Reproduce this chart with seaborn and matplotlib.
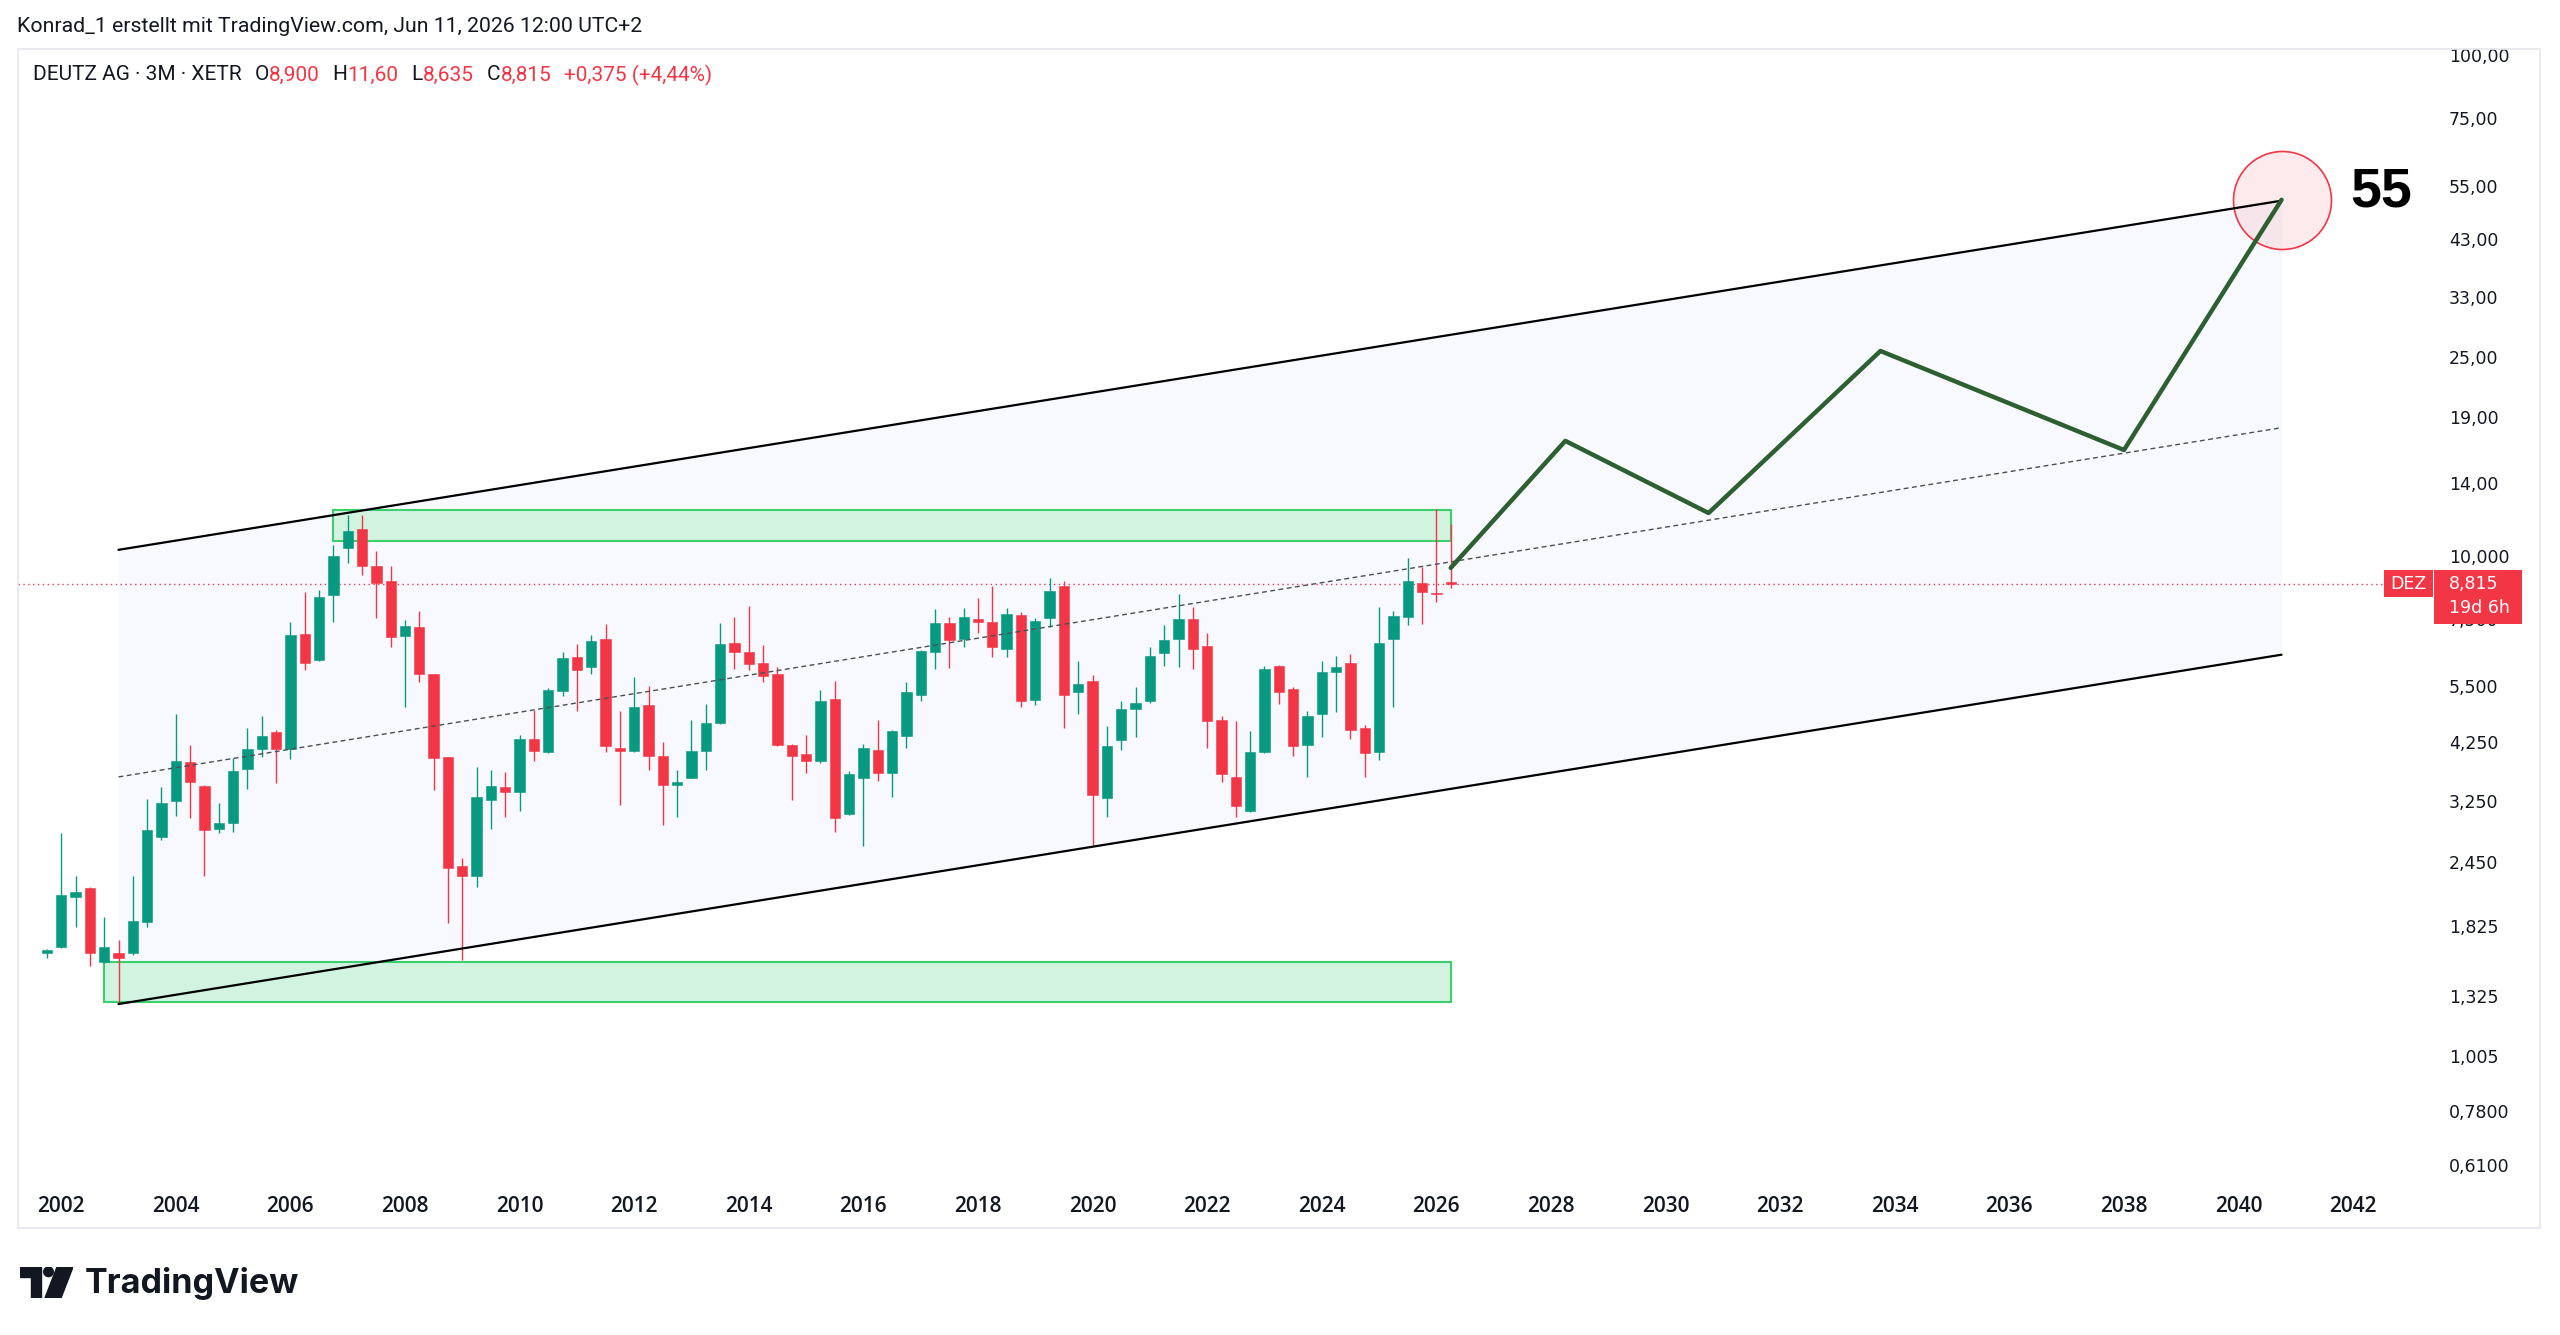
import numpy as np
import pandas as pd
import matplotlib
matplotlib.use("Agg")
import matplotlib.pyplot as plt
import matplotlib.ticker as mticker
from matplotlib.patches import Rectangle, Polygon, Circle
import seaborn as sns

# ---------------- data (quarterly candles, DEUTZ AG, XETR) ----------------
first_quarter = "2001Q4"
opens = [1.61, 1.66, 2.09, 2.18, 1.55, 1.61, 1.61, 1.86, 2.75, 3.25,
         3.88, 3.48, 2.85, 2.93, 3.76, 4.13, 4.46, 4.12, 6.99, 6.21,
         8.36, 10.37, 11.34, 9.58, 8.94, 6.94, 7.24, 5.81, 3.97, 2.41,
         2.30, 3.26, 3.46, 3.39, 4.32, 4.07, 5.38, 6.30, 6.01, 6.84,
         4.15, 4.08, 5.04, 4.00, 3.49, 3.61, 4.09, 4.64, 6.70, 6.44,
         6.11, 5.82, 4.20, 4.02, 3.90, 5.19, 3.06, 3.61, 4.10, 3.69,
         4.37, 5.29, 6.45, 7.37, 6.85, 7.49, 7.40, 6.53, 7.63, 5.17,
         7.54, 8.72, 5.35, 5.63, 3.29, 4.30, 4.96, 5.13, 6.40, 6.83,
         7.49, 6.63, 4.72, 3.63, 3.10, 4.06, 6.05, 5.42, 4.19, 4.84,
         5.87, 6.11, 4.54, 4.06, 6.83, 7.57, 8.86, 8.45, 8.90]
highs = [1.64, 2.80, 2.30, 2.19, 1.90, 1.71, 2.30, 3.28, 3.46, 4.85,
         4.20, 3.50, 3.21, 3.95, 4.54, 4.80, 4.50, 7.39, 8.50, 8.57,
         10.53, 12.09, 12.09, 10.24, 9.56, 7.46, 7.78, 5.83, 3.98, 2.50,
         3.80, 3.74, 3.71, 4.39, 4.94, 5.45, 6.45, 6.67, 6.96, 7.31,
         4.90, 5.74, 5.50, 4.26, 3.75, 4.70, 5.07, 7.35, 7.57, 7.96,
         6.65, 6.01, 4.21, 4.40, 5.40, 5.63, 3.73, 4.21, 4.70, 4.50,
         5.60, 6.50, 7.86, 7.55, 7.87, 8.24, 8.72, 7.89, 7.75, 7.52,
         9.04, 8.94, 6.18, 5.79, 4.58, 5.14, 5.47, 6.58, 7.29, 8.41,
         7.93, 7.02, 4.80, 4.68, 4.47, 6.05, 6.07, 5.47, 4.90, 6.19,
         6.32, 6.38, 4.61, 7.93, 7.78, 9.91, 9.53, 12.43, 11.60]
lows = [1.575, 1.65, 1.82, 1.52, 1.54, 1.28, 1.60, 1.82, 2.71, 3.03,
        3.00, 2.30, 2.80, 2.82, 3.43, 3.98, 3.52, 3.93, 5.93, 6.18,
        7.38, 9.68, 9.18, 7.54, 6.60, 5.01, 5.60, 3.41, 1.85, 1.56,
        2.19, 2.86, 3.01, 3.10, 3.90, 4.05, 5.27, 4.91, 5.82, 4.07,
        3.18, 4.06, 3.75, 2.90, 3.01, 3.60, 3.74, 4.62, 5.95, 5.93,
        5.62, 4.17, 3.26, 3.70, 3.86, 2.81, 3.04, 2.64, 3.56, 3.30,
        4.15, 5.13, 5.96, 5.99, 6.60, 7.02, 6.28, 6.28, 5.01, 5.04,
        7.24, 4.54, 4.84, 2.65, 3.01, 4.11, 4.35, 5.10, 6.05, 6.02,
        5.95, 4.15, 3.54, 3.01, 3.08, 4.05, 5.06, 4.00, 3.63, 4.36,
        4.88, 4.31, 3.63, 3.92, 5.01, 7.29, 7.31, 8.12, 8.635]
closes = [1.635, 2.11, 2.14, 1.61, 1.66, 1.575, 1.87, 2.84, 3.22, 3.90,
          3.54, 2.84, 2.93, 3.73, 4.12, 4.38, 4.13, 6.96, 6.13, 8.30,
          10.0, 11.25, 9.56, 8.86, 6.91, 7.27, 5.82, 3.96, 2.38, 2.30,
          3.30, 3.48, 3.38, 4.32, 4.09, 5.40, 6.25, 5.93, 6.77, 4.17,
          4.09, 4.99, 3.99, 3.49, 3.54, 4.08, 4.64, 6.67, 6.45, 6.09,
          5.77, 4.19, 3.99, 3.90, 5.14, 3.00, 3.68, 4.15, 3.69, 4.47,
          5.36, 6.47, 7.37, 6.81, 7.55, 7.40, 6.60, 7.66, 5.13, 7.43,
          8.52, 5.29, 5.56, 3.33, 4.18, 4.96, 5.10, 6.33, 6.81, 7.49,
          6.53, 4.69, 3.67, 3.17, 4.06, 5.96, 5.36, 4.17, 4.80, 5.88,
          6.01, 4.49, 4.04, 6.72, 7.61, 8.94, 8.47, 8.40, 8.815]

year_ticks = list(range(2002, 2043, 2))
price_ticks = [100, 75, 55, 43, 33, 25, 19, 14, 10, 7.5, 5.5, 4.25, 3.25,
               2.45, 1.825, 1.325, 1.005, 0.78, 0.61]
price_tick_labels = ["100,00", "75,00", "55,00", "43,00", "33,00", "25,00",
                     "19,00", "14,00", "10,000", "7,500", "5,500", "4,250",
                     "3,250", "2,450", "1,825", "1,325", "1,005", "0,7800",
                     "0,6100"]

# drawings (time in years, prices in EUR)
channel_years = [2003.0, 2040.75]
channel_upper = [10.3, 51.3]
channel_lower = [1.276, 6.36]
channel_mid = [3.625, 18.06]
zone_years = [2006.75, 2026.25]
zone_top_prices = [10.75, 12.38]
zone_low_years = [2002.75, 2026.25]
zone_bottom_prices = [1.287, 1.55]
path_years = [2026.25, 2028.25, 2030.75, 2033.75, 2038.0, 2040.75]
path_prices = [9.48, 17.0, 12.2, 25.7, 16.3, 51.5]
target_text = "55"
last_price = 8.815
symbol = "DEZ"
countdown = "19d 6h"

header_line = "Konrad_1 erstellt mit TradingView.com, Jun 11, 2026 12:00 UTC+2"
legend_pieces = [("DEUTZ AG · 3M · XETR", "k"), ("O", "k"), ("8,900", "r"),
                 ("H", "k"), ("11,60", "r"), ("L", "k"), ("8,635", "r"),
                 ("C", "k"), ("8,815", "r"), ("+0,375 (+4,44%)", "r")]

# ---------------- styling ----------------
sns.set_theme(style="white")
plt.rcParams["font.family"] = ["DejaVu Sans"]
UP, DOWN = "#089981", "#f23645"
TXT = "#131722"
HDR_FAMILY = ["Roboto", "Liberation Sans", "DejaVu Sans"]

W, H = 2560, 1335
fig = plt.figure(figsize=(W / 100, H / 100), dpi=100, facecolor="white")


def fx(px):
    return px / W


def fy(py):
    return 1 - py / H


ax = fig.add_axes([fx(18), fy(1184), fx(2433) - fx(18), fy(49) - fy(1184)])
ax.set_facecolor("white")
ax.set_yscale("log")
ax.set_xlim(2001.246, 2043.393)
ax.set_ylim(0.5578, 103.03)
for s in ax.spines.values():
    s.set_visible(False)
ax.grid(False)

periods = pd.period_range(start=first_quarter, periods=len(opens), freq="Q")
t = np.asarray(periods.year + (periods.quarter - 1) / 4.0, dtype=float)
o, h, l, c = map(np.asarray, (opens, highs, lows, closes))
cols = np.where(c >= o, UP, DOWN)

# channel background
ax.fill_between(channel_years, channel_lower, channel_upper, color="#f8f9ff",
                zorder=0, linewidth=0)

# zones
ax.add_patch(Rectangle((zone_years[0], zone_top_prices[0]),
                       zone_years[1] - zone_years[0],
                       zone_top_prices[1] - zone_top_prices[0],
                       facecolor="#d2f3df", edgecolor="#3ccf6e", lw=1.5, zorder=1))
ax.add_patch(Rectangle((zone_low_years[0], zone_bottom_prices[0]),
                       zone_low_years[1] - zone_low_years[0],
                       zone_bottom_prices[1] - zone_bottom_prices[0],
                       facecolor="#d2f3df", edgecolor="#3ccf6e", lw=1.5, zorder=1))

# current price dotted line
ax.axhline(last_price, color=DOWN, lw=1.0, ls=(0, (1, 2.5)), zorder=2)

# candles
ax.vlines(t, l, h, colors=cols, lw=1.0, zorder=3)
bb = np.minimum(o, c)
bt = np.maximum(o, c)
ax.bar(t, bt - bb, bottom=bb, width=0.18, color=cols, edgecolor=cols,
       linewidth=0.4, zorder=4)

# channel lines
sns.lineplot(x=channel_years, y=channel_upper, ax=ax, color="black", lw=1.6,
             zorder=6, sort=False)
sns.lineplot(x=channel_years, y=channel_lower, ax=ax, color="black", lw=1.6,
             zorder=6, sort=False)
sns.lineplot(x=channel_years, y=channel_mid, ax=ax, color="#4b4f5a", lw=1.0,
             zorder=6, sort=False, dashes=False, linestyle=(0, (3.5, 2.5)))

# target circle
ax.scatter([path_years[-1]], [path_prices[-1]], s=4979,
           facecolors=[(242 / 255, 54 / 255, 69 / 255, 0.1)],
           edgecolors=DOWN, linewidths=1.2, zorder=5)

# projection path
sns.lineplot(x=path_years, y=path_prices, ax=ax, color="#2e5f31", lw=3.2,
             zorder=7, sort=False, solid_capstyle="round",
             solid_joinstyle="round")

ax.annotate(target_text, xy=(path_years[-1], path_prices[-1]),
            xytext=(100, 7), textcoords="offset pixels", ha="center",
            va="center", fontsize=40, fontweight="bold",
            family=["Liberation Sans", "DejaVu Sans"], color="black", zorder=8)

# axes ticks
ax.set_yticks(price_ticks)
ax.set_yticklabels(price_tick_labels)
ax.yaxis.set_minor_locator(mticker.NullLocator())
ax.yaxis.tick_right()
ax.tick_params(axis="y", length=0, pad=11.5, labelsize=12.5, labelcolor=TXT)
ax.set_xticks(year_ticks)
ax.set_xticklabels([str(y) for y in year_ticks])
ax.xaxis.set_minor_locator(mticker.NullLocator())
ax.tick_params(axis="x", length=0, pad=8.5, labelsize=15, labelcolor=TXT)
for lbl in ax.get_xticklabels():
    lbl.set_fontfamily(["Open Sans", "DejaVu Sans"])
    lbl.set_fontweight("semibold")
ax.set_xlabel("")
ax.set_ylabel("")
legend = ax.get_legend()
if legend is not None:
    legend.remove()

# pane border
fig.add_artist(Rectangle((fx(18), fy(1228)), fx(2540) - fx(18), fy(49) - fy(1228),
                         transform=fig.transFigure, fill=False,
                         edgecolor="#e6e8ee", lw=1.2, zorder=0.5))

# price labels on right
fig.canvas.draw()
renderer = fig.canvas.get_renderer()
ydisp = ax.transData.transform((2020.0, last_price))[1]
py = H - ydisp
fig.add_artist(Rectangle((fx(2384), fy(py + 13.5)), fx(2433) - fx(2384), 27 / H,
                         transform=fig.transFigure, facecolor=DOWN,
                         edgecolor="none", zorder=2))
fig.add_artist(Rectangle((fx(2434), fy(py + 40)), fx(2522) - fx(2434), 54 / H,
                         transform=fig.transFigure, facecolor=DOWN,
                         edgecolor="none", zorder=2))
fig.text(fx(2408.5), fy(py), symbol, color="white", fontsize=12.5,
         ha="center", va="center", zorder=3)
fig.text(fx(2449), fy(py), f"{last_price:.3f}".replace(".", ","), color="white",
         fontsize=12.5, ha="left", va="center", zorder=3)
fig.text(fx(2449), fy(py + 24), countdown, color="white", fontsize=12.5,
         ha="left", va="center", zorder=3)


def fit_text(x_px, y_px, s, target_w, **kw):
    tt = fig.text(fx(x_px), fy(y_px), s, **kw)
    w = tt.get_window_extent(renderer).width
    tt.set_fontsize(tt.get_fontsize() * target_w / w)
    return tt


# header (real text, fitted to the reference width)
fit_text(17, 26, header_line, 627, fontsize=16, family=HDR_FAMILY, color=TXT,
         ha="left", va="center")

GAP = 13


def draw_pieces(size):
    x = 33
    arts = []
    for k, (s, col) in enumerate(legend_pieces):
        if k > 0:
            x += GAP if (col == "k" or k == len(legend_pieces) - 1) else 0
        tt = fig.text(fx(x), fy(75), s, fontsize=size, family=HDR_FAMILY,
                      color=TXT if col == "k" else DOWN, ha="left", va="center")
        x += tt.get_window_extent(renderer).width
        arts.append(tt)
    return arts, x - 33


arts, tw = draw_pieces(16)
for a in arts:
    a.remove()
text_w = tw - 5 * GAP
arts, tw = draw_pieces(16 * (682 - 5 * GAP) / text_w)

fit_text(85, 1283, "TradingView", 215, fontsize=24, fontweight="bold",
         family=["Inter", "DejaVu Sans"], color="#131722", ha="left",
         va="center")

# TradingView logo mark
lax = fig.add_axes([fx(20), fy(1298), fx(73) - fx(20), fy(1267) - fy(1298)])
lax.set_xlim(0, 53)
lax.set_ylim(31, 0)
lax.axis("off")
lax.add_patch(Polygon([(0, 0), (21, 0), (21, 31), (10.5, 31), (10.5, 9.5), (0, 9.5)],
                      closed=True, color="#131722"))
lax.add_patch(Circle((28.5, 4.8), 4.8, color="#131722"))
lax.add_patch(Polygon([(37, 0), (53, 0), (41, 31), (25, 31)], closed=True,
                      color="#131722"))

fig.savefig("out.png", dpi=100, facecolor="white")
